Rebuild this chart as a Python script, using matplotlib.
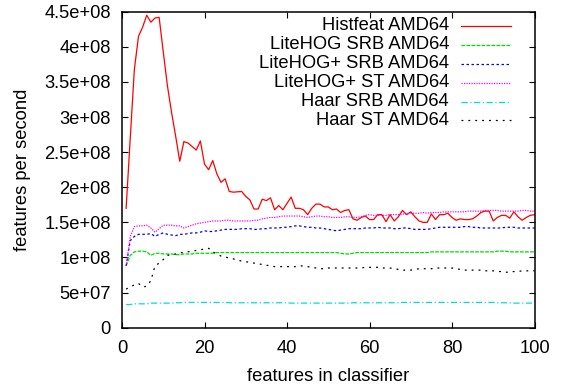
import numpy as np
import matplotlib
matplotlib.use('Agg')
import matplotlib.pyplot as plt

plt.rcParams['font.family'] = ['Liberation Sans', 'DejaVu Sans']
plt.rcParams['font.size'] = 13.2

# số đặc trưng trong bộ phân loại
features = np.arange(1, 101)

# tốc độ (đơn vị 1e8 features/s)
histfeat = [
    1.70, 2.70, 3.68, 4.15, 4.28, 4.45, 4.35, 4.41, 4.42, 3.93,
    3.45, 3.07, 2.73, 2.37, 2.65, 2.63, 2.58, 2.53, 2.66, 2.33,
    2.25, 2.38, 2.19, 2.07, 2.12, 1.94, 1.93, 1.935, 1.94, 1.87,
    1.82, 1.69, 1.69, 1.83, 1.81, 1.85, 1.68, 1.74, 1.68, 1.77,
    1.86, 1.70, 1.70, 1.68, 1.61, 1.70, 1.76, 1.76, 1.72, 1.72,
    1.68, 1.69, 1.64, 1.67, 1.68, 1.55, 1.53, 1.57, 1.59, 1.54,
    1.54, 1.61, 1.61, 1.51, 1.61, 1.52, 1.58, 1.67, 1.61, 1.65,
    1.58, 1.52, 1.50, 1.50, 1.62, 1.54, 1.61, 1.61, 1.63, 1.57,
    1.53, 1.55, 1.54, 1.54, 1.55, 1.59, 1.64, 1.66, 1.66, 1.52,
    1.57, 1.60, 1.60, 1.56, 1.65, 1.58, 1.53, 1.57, 1.60, 1.61,
]
litehog_srb = [
    0.88, 1.03, 1.08, 1.09, 1.09, 1.08, 1.03, 1.06, 1.06, 1.05,
    1.05, 1.05, 1.04, 1.04, 1.05, 1.05, 1.05, 1.06, 1.06, 1.06,
    1.06, 1.06, 1.07, 1.07, 1.07, 1.07, 1.07, 1.07, 1.07, 1.07,
    1.07, 1.07, 1.07, 1.07, 1.07, 1.07, 1.07, 1.07, 1.07, 1.07,
    1.07, 1.07, 1.07, 1.07, 1.07, 1.07, 1.07, 1.07, 1.07, 1.07,
    1.07, 1.07, 1.06, 1.05, 1.05, 1.06, 1.07, 1.07, 1.07, 1.07,
    1.07, 1.07, 1.07, 1.07, 1.07, 1.07, 1.07, 1.07, 1.07, 1.07,
    1.07, 1.07, 1.07, 1.07, 1.08, 1.08, 1.08, 1.08, 1.08, 1.08,
    1.08, 1.08, 1.08, 1.08, 1.08, 1.08, 1.08, 1.08, 1.08, 1.08,
    1.09, 1.09, 1.09, 1.08, 1.08, 1.08, 1.08, 1.08, 1.08, 1.08,
]
litehogp_srb = [
    0.88, 1.24, 1.30, 1.33, 1.33, 1.33, 1.34, 1.30, 1.33, 1.35,
    1.33, 1.32, 1.31, 1.33, 1.33, 1.34, 1.35, 1.35, 1.36, 1.38,
    1.37, 1.37, 1.38, 1.39, 1.40, 1.40, 1.40, 1.40, 1.41, 1.41,
    1.41, 1.40, 1.40, 1.41, 1.41, 1.42, 1.42, 1.42, 1.43, 1.43,
    1.44, 1.45, 1.45, 1.44, 1.43, 1.43, 1.42, 1.42, 1.41, 1.40,
    1.39, 1.38, 1.39, 1.40, 1.41, 1.41, 1.41, 1.41, 1.42, 1.42,
    1.42, 1.43, 1.42, 1.42, 1.42, 1.41, 1.41, 1.42, 1.42, 1.41,
    1.40, 1.40, 1.40, 1.40, 1.41, 1.42, 1.43, 1.43, 1.43, 1.43,
    1.43, 1.43, 1.44, 1.44, 1.43, 1.43, 1.42, 1.42, 1.42, 1.42,
    1.42, 1.42, 1.43, 1.43, 1.43, 1.42, 1.42, 1.42, 1.42, 1.42,
]
litehogp_st = [
    0.88, 1.30, 1.44, 1.45, 1.45, 1.46, 1.42, 1.36, 1.41, 1.46,
    1.46, 1.46, 1.45, 1.45, 1.42, 1.44, 1.46, 1.48, 1.49, 1.50,
    1.51, 1.52, 1.52, 1.52, 1.53, 1.53, 1.52, 1.52, 1.52, 1.52,
    1.52, 1.53, 1.53, 1.55, 1.56, 1.57, 1.57, 1.58, 1.59, 1.59,
    1.59, 1.59, 1.59, 1.58, 1.57, 1.58, 1.59, 1.59, 1.58, 1.58,
    1.57, 1.57, 1.57, 1.58, 1.58, 1.57, 1.57, 1.58, 1.60, 1.61,
    1.60, 1.60, 1.60, 1.60, 1.61, 1.61, 1.61, 1.62, 1.62, 1.63,
    1.63, 1.63, 1.64, 1.63, 1.64, 1.64, 1.64, 1.65, 1.65, 1.65,
    1.65, 1.65, 1.65, 1.66, 1.66, 1.66, 1.66, 1.67, 1.67, 1.67,
    1.67, 1.66, 1.66, 1.66, 1.66, 1.66, 1.67, 1.67, 1.66, 1.66,
]
haar_srb = [
    0.33, 0.33, 0.34, 0.34, 0.34, 0.34, 0.35, 0.35, 0.35, 0.35,
    0.35, 0.35, 0.355, 0.355, 0.36, 0.36, 0.36, 0.36, 0.36, 0.36,
    0.36, 0.36, 0.36, 0.36, 0.36, 0.355, 0.355, 0.355, 0.355, 0.355,
    0.355, 0.355, 0.355, 0.355, 0.355, 0.355, 0.355, 0.355, 0.355, 0.355,
    0.35, 0.35, 0.35, 0.35, 0.35, 0.35, 0.35, 0.35, 0.35, 0.35,
    0.35, 0.35, 0.35, 0.35, 0.35, 0.355, 0.355, 0.355, 0.355, 0.355,
    0.355, 0.355, 0.355, 0.355, 0.355, 0.355, 0.355, 0.36, 0.36, 0.36,
    0.36, 0.36, 0.36, 0.36, 0.36, 0.36, 0.36, 0.36, 0.36, 0.36,
    0.36, 0.36, 0.36, 0.36, 0.36, 0.36, 0.36, 0.36, 0.36, 0.36,
    0.355, 0.355, 0.355, 0.355, 0.35, 0.35, 0.35, 0.35, 0.35, 0.35,
]
haar_st = [
    0.55, 0.58, 0.61, 0.63, 0.58, 0.59, 0.67, 0.88, 0.92, 0.97,
    1.03, 1.04, 1.05, 1.07, 1.07, 1.08, 1.09, 1.10, 1.11, 1.12,
    1.13, 1.08, 1.05, 1.02, 1.01, 0.99, 0.98, 0.96, 0.95, 0.94,
    0.93, 0.92, 0.91, 0.90, 0.89, 0.88, 0.87, 0.87, 0.87, 0.87,
    0.87, 0.87, 0.88, 0.88, 0.87, 0.86, 0.85, 0.84, 0.84, 0.85,
    0.85, 0.85, 0.85, 0.85, 0.85, 0.85, 0.85, 0.85, 0.86, 0.86,
    0.86, 0.86, 0.85, 0.85, 0.85, 0.84, 0.83, 0.82, 0.82, 0.82,
    0.83, 0.84, 0.84, 0.84, 0.84, 0.85, 0.85, 0.85, 0.85, 0.85,
    0.84, 0.83, 0.82, 0.82, 0.82, 0.82, 0.82, 0.81, 0.81, 0.81,
    0.80, 0.80, 0.79, 0.79, 0.80, 0.80, 0.81, 0.81, 0.81, 0.81,
]

labels = ['Histfeat AMD64', 'LiteHOG SRB AMD64', 'LiteHOG+ SRB AMD64',
          'LiteHOG+ ST AMD64', 'Haar SRB AMD64', 'Haar ST AMD64']
series = [histfeat, litehog_srb, litehogp_srb, litehogp_st, haar_srb, haar_st]
colors = ['#ff0000', '#00dd00', '#0000ff', '#ff00ff', '#00dddd', '#000000']
dashes = [None, (3, 1), (2, 2), (1, 1), (5, 2, 1, 2), (1.5, 4)]

xticks = [0, 20, 40, 60, 80, 100]
yticks = np.arange(0, 4.5e8 + 1, 5e7)
yticklabels = ['0', '5e+07', '1e+08', '1.5e+08', '2e+08', '2.5e+08',
               '3e+08', '3.5e+08', '4e+08', '4.5e+08']

fig = plt.figure(figsize=(5.61, 3.88), dpi=100)
ax = fig.add_axes([122 / 561, 1 - 327.7 / 388, 412.5 / 561, 316 / 388])

for i, (vals, lab) in enumerate(zip(series, labels)):
    ln, = ax.plot(features, np.array(vals) * 1e8, color=colors[i], lw=0.9)
    if dashes[i] is not None:
        ln.set_dashes(dashes[i])

    # chú thích kiểu gnuplot: chữ căn phải, mẫu đường bên phải
    yy = 0.955 - i * 0.0598
    ax.text(0.793, yy, lab, transform=ax.transAxes, ha='right', va='center')
    ll, = ax.plot([0.822, 0.943], [yy, yy], transform=ax.transAxes,
                  color=colors[i], lw=0.9)
    if dashes[i] is not None:
        ll.set_dashes(dashes[i])

ax.set_xlim(0, 100)
ax.set_ylim(0, 4.5e8)
ax.set_xticks(xticks)
ax.set_yticks(yticks)
ax.set_yticklabels(yticklabels)
ax.tick_params(direction='in', top=True, right=True, length=4.5, width=0.8)
ax.tick_params(axis='x', pad=8.5)
ax.tick_params(axis='y', pad=8)
for sp in ax.spines.values():
    sp.set_linewidth(1.1)

ax.set_xlabel('features in classifier')
ax.set_ylabel('features per second')
ax.xaxis.set_label_coords(0.5, -0.128)
ax.yaxis.set_label_coords(-0.22, 0.5)

fig.savefig('out.png', dpi=100)
